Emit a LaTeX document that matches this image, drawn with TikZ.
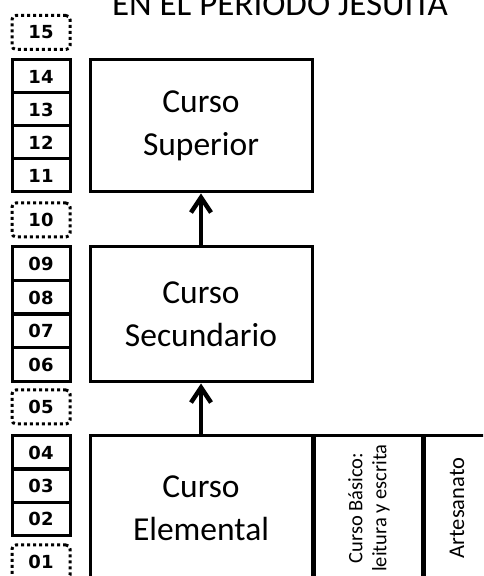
\documentclass[tikz,border=0pt]{standalone}
\usepackage{fontspec}
\setmainfont{Carlito}
\newfontfamily\yearfont{DejaVu Sans}
\usetikzlibrary{arrows.meta}
\tikzset{
    yearbox/.style={rectangle,draw,line width=3pt,minimum width=58pt,minimum height=33pt,inner sep=0pt,font=\yearfont\fontsize{18}{18}\selectfont\bfseries},
    gapyear/.style={yearbox,minimum height=34pt,dash pattern=on 3pt off 3pt,rounded corners=4pt},
    course/.style={rectangle,draw,line width=3pt,minimum width=222pt,align=center,inner sep=0pt,font=\fontsize{33.5}{43}\selectfont},
    sidecourse/.style={rectangle,draw,line width=3pt,inner sep=0pt,align=center,rotate=90},
    up/.style={line width=4.5pt,arrows={-Straight Barb[length=15pt,width=20pt]}},
    }
\begin{document}
\begin{tikzpicture}[x=1pt,y=1pt]
    \clip (0,0) rectangle (483,576);
    \node[anchor=base,font=\fontsize{35}{35}\selectfont] (title) at (280,560) {EN EL PERIODO JESUITA};

    % school years
    \node[gapyear] (y15) at (41,543.5) {15};
    \node[yearbox] (y14) at (41,499.5) {14};
    \node[yearbox] (y13) at (41,466.5) {13};
    \node[yearbox] (y12) at (41,433.5) {12};
    \node[yearbox] (y11) at (41,400.5) {11};
    \node[gapyear] (y10) at (41,356) {10};
    \node[yearbox,minimum height=34pt] (y09) at (41,312) {09};
    \node[yearbox,minimum height=34pt] (y08) at (41,278.5) {08};
    \node[yearbox,minimum height=34pt] (y07) at (41,245) {07};
    \node[yearbox,minimum height=34pt] (y06) at (41,211) {06};
    \node[gapyear] (y05) at (41,169) {05};
    \node[yearbox] (y04) at (41,123.5) {04};
    \node[yearbox] (y03) at (41,90) {03};
    \node[yearbox] (y02) at (41,57) {02};
    \node[gapyear] (y01) at (41,14) {01};

    % courses
    \node[course,minimum height=132pt] (sup) at (201,450) {Curso\\Superior};
    \node[course,minimum height=135pt] (sec) at (201,261.5) {Curso\\Secundario};
    \node[course,minimum height=144pt] (ele) at (201,68) {Curso\\Elemental};
    \node[sidecourse,minimum width=144pt,minimum height=110pt,font=\fontsize{20.5}{24}\selectfont] (bas) at (369,68) {Curso Básico:\\leitura y escrita};
    \node[sidecourse,minimum width=144pt,minimum height=70pt,font=\fontsize{22.5}{22.5}\selectfont] (art) at (457,68) {Artesanato};

    \draw[up] (ele) -- (sec);
    \draw[up] (sec) -- (sup);
\end{tikzpicture}
\end{document}
